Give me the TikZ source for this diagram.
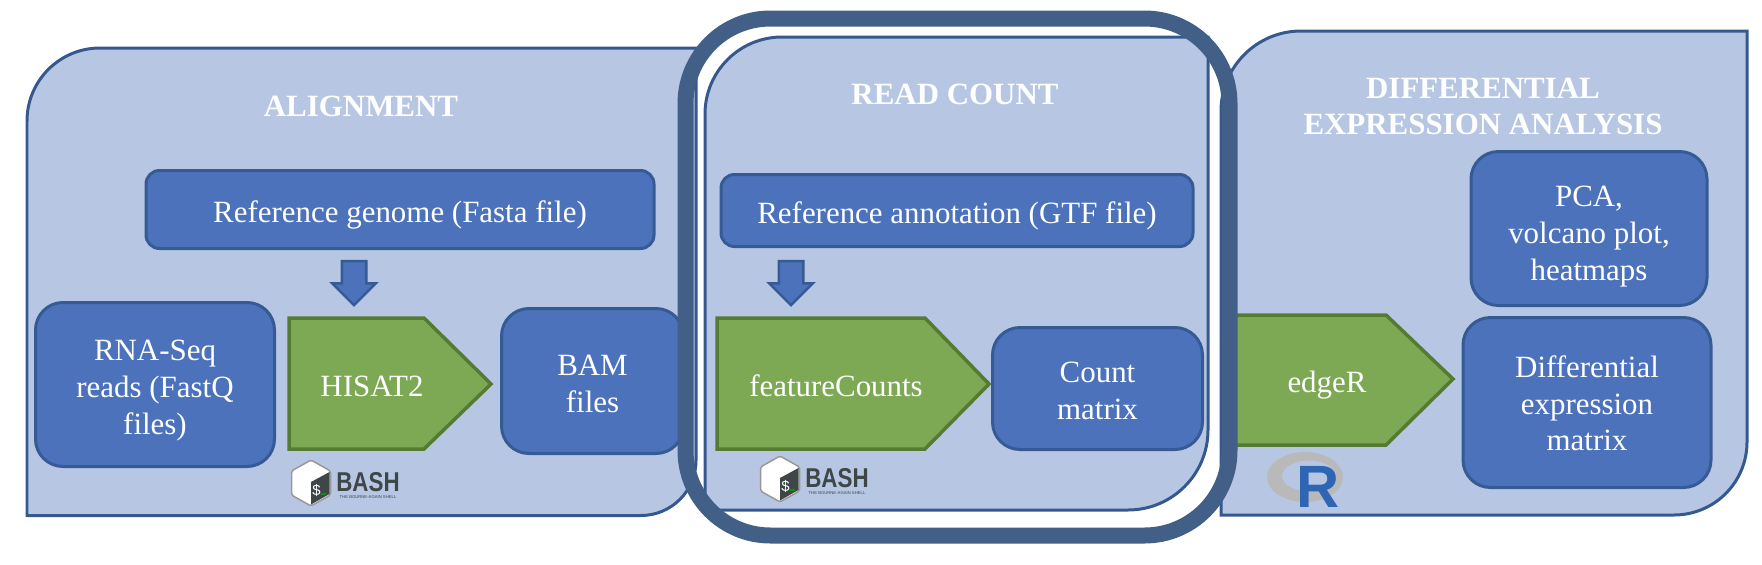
\documentclass[tikz,border=0pt]{standalone}
\usepackage{fontspec}
\usepackage{xcolor}
\usetikzlibrary{shapes.arrows}
\setmainfont{Liberation Serif}
\setsansfont{Liberation Sans}
\definecolor{panelfill}{HTML}{B7C7E3}
\definecolor{paneldraw}{HTML}{35588F}
\definecolor{boxfill}{HTML}{4C72BC}
\definecolor{boxdraw}{HTML}{365A94}
\definecolor{toolfill}{HTML}{7DA955}
\definecolor{tooldraw}{HTML}{557B33}
\definecolor{ringdraw}{HTML}{415F87}
\definecolor{bashdark}{HTML}{3F4647}
\newcommand{\dropby}[1]{\rule{0pt}{#1}}
\tikzset{
    bashlogo/.pic={
        \draw[draw=gray!80, line width=0.03cm, fill=white, rounded corners=1pt]
            (0,0.46)--(0.39,0.24)--(0.39,-0.24)--(0,-0.46)--(-0.39,-0.24)--(-0.39,0.24)--cycle;
        \fill[bashdark] (0.37,0.22)--(0,0.02)--(0,-0.43)--(0.37,-0.22)--cycle;
        \fill[green!60!black] (0.2,-0.2) rectangle (0.3,-0.23);
        \node[text=white, inner sep=0, font=\sffamily\fontsize{8.5}{9}\selectfont] (dollar) at (0.11,-0.15) {\$};
        \node[text=bashdark, inner sep=0, transform shape, xscale=0.82,
              font=\sffamily\bfseries\fontsize{15.5}{15.5}\selectfont] (word) at (1.14,0.02) {BASH};
        \node[text=bashdark, inner sep=0,
              font=\sffamily\fontsize{2.4}{3}\selectfont] (motto) at (1.14,-0.28) {THE BOURNE-AGAIN SHELL};
    }
}

\begin{document}
\begin{tikzpicture}[
    panel/.style={draw=paneldraw, line width=0.06cm, fill=panelfill},
    box/.style={draw=boxdraw, line width=0.06cm, fill=boxfill, rounded corners=0.55cm, align=center,
                inner sep=0, text=white, font=\fontsize{17.6}{20.9}\selectfont},
    wbox/.style={box, rounded corners=0.27cm},
    tool/.style={draw=tooldraw, line width=0.07cm, fill=toolfill},
    tooltext/.style={inner sep=0, text=white, font=\fontsize{17.6}{20.9}\selectfont},
    heading/.style={inner sep=0, text=white, align=center, font=\bfseries\fontsize{17.6}{20.9}\selectfont},
    blockarr/.style={single arrow, draw=boxdraw, line width=0.05cm, fill=boxfill, rotate=-90,
                     inner xsep=0, inner ysep=0.22cm,
                     minimum height=0.88cm, single arrow head extend=0.19cm,
                     single arrow tip angle=90, single arrow head indent=0},
    ringbox/.style={draw=ringdraw, line width=0.32cm, rounded corners=1.7cm, inner sep=0}
]
\useasboundingbox (0,0) rectangle (35.24,-11.28);
% background panels
\draw[panel] (0.54,-10.31) -- (0.54,-2.42) arc[start angle=180, end angle=90, radius=1.46]
    -- (13.92,-0.96) -- (13.92,-9.21) arc[start angle=0, end angle=-90, radius=1.1] -- cycle;
\draw[panel] (14.1,-10.2) -- (14.1,-2.28) arc[start angle=180, end angle=90, radius=1.54]
    -- (24.16,-0.74) -- (24.16,-8.6) arc[start angle=0, end angle=-90, radius=1.6] -- cycle;
\draw[panel] (24.42,-10.3) -- (24.42,-2.22) arc[start angle=180, end angle=90, radius=1.6]
    -- (34.94,-0.62) -- (34.94,-8.84) arc[start angle=0, end angle=-90, radius=1.46] -- cycle;
% alignment
\node[heading] (alignhead) at (7.22,-2.12) {ALIGNMENT};
\node[wbox, minimum width=10.16cm, minimum height=1.56cm] (refgenome) at (8.0,-4.19) {\dropby{18.3pt}Reference genome (Fasta file)};
\node[blockarr] (arrgenome) at (7.08,-5.54) {};
\node[box, minimum width=4.78cm, minimum height=3.28cm] (reads) at (3.1,-7.69) {\dropby{18.4pt}RNA-Seq\\reads (FastQ\\files)};
\draw[tool] (5.78,-6.36) -- (8.48,-6.36) -- (9.82,-7.68) -- (8.48,-8.98) -- (5.78,-8.98) -- cycle;
\node[tooltext] (hisat) at (7.44,-7.72) {HISAT2};
\node[box, minimum width=3.64cm, minimum height=2.9cm] (bam) at (11.85,-7.62) {\dropby{14.6pt}BAM\\files};
\pic (bashone) at (6.22,-9.66) {bashlogo};
% read count
\node[heading] (counthead) at (19.1,-1.88) {READ COUNT};
\node[wbox, minimum width=9.44cm, minimum height=1.44cm] (refannot) at (19.14,-4.21) {\dropby{18.3pt}Reference annotation (GTF file)};
\node[blockarr] (arrannot) at (15.82,-5.54) {};
\draw[tool] (14.34,-6.36) -- (18.5,-6.36) -- (19.78,-7.68) -- (18.5,-8.98) -- (14.34,-8.98) -- cycle;
\node[tooltext] (fcounts) at (16.72,-7.72) {featureCounts};
\node[box, minimum width=4.2cm, minimum height=2.44cm] (matrix) at (21.95,-7.77) {\dropby{14.6pt}Count\\matrix};
\pic (bashtwo) at (15.6,-9.58) {bashlogo};
% differential expression
\node[heading] (diffhead) at (29.66,-2.13) {DIFFERENTIAL\\EXPRESSION ANALYSIS};
\node[box, minimum width=4.72cm, minimum height=3.08cm] (plots) at (31.78,-4.57) {\dropby{21pt}PCA,\\volcano plot,\\heatmaps};
\draw[tool] (24.68,-6.3) -- (27.72,-6.3) -- (29.06,-7.58) -- (27.72,-8.9) -- (24.68,-8.9) -- cycle;
\node[tooltext] (edger) at (26.54,-7.7) {edgeR};
\node[box, minimum width=4.96cm, minimum height=3.4cm] (diffmat) at (31.74,-8.05) {\dropby{13.5pt}Differential\\expression\\matrix};
\fill[gray!55, even odd rule] (26.1,-9.54) ellipse [x radius=0.76, y radius=0.5]
    (26.18,-9.52) ellipse [x radius=0.54, y radius=0.31];
\node[inner sep=0, anchor=base, text={rgb,255:red,47;green,102;blue,179},
      font=\sffamily\bfseries\fontsize{34}{34}\selectfont] (rletter) at (26.36,-10.15) {R};
% ring round the middle panel
\node[ringbox, minimum width=10.88cm, minimum height=10.34cm] (ring) at (19.15,-5.54) {};
\end{tikzpicture}
\end{document}
